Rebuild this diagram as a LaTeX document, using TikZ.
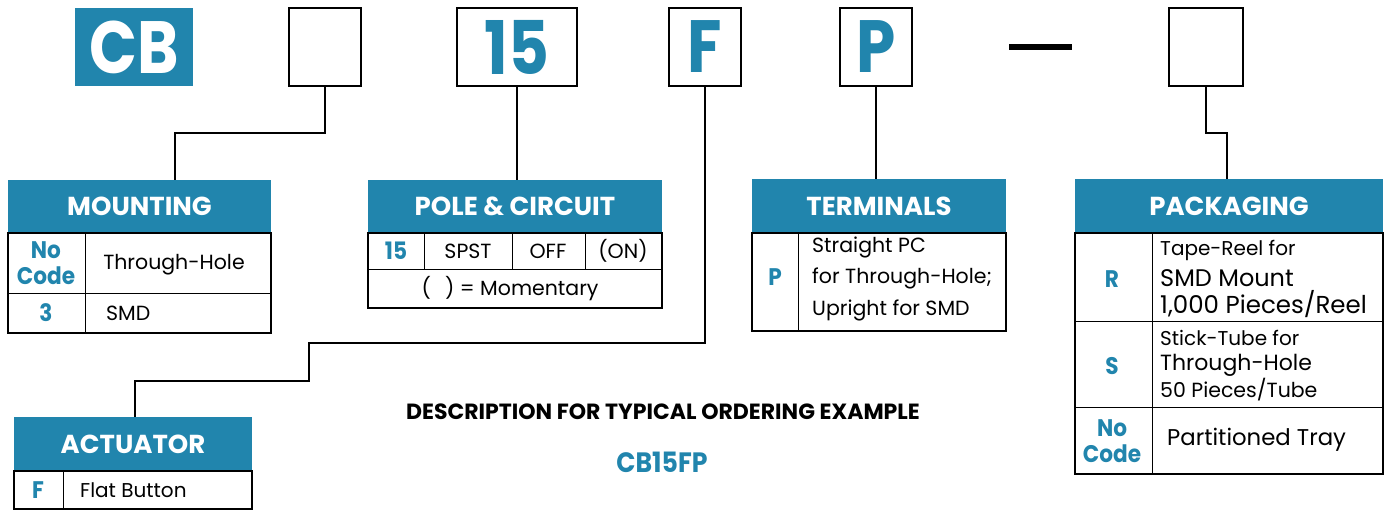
\documentclass[tikz,border=0pt]{standalone}
\usepackage{fontspec}
\setmainfont{Poppins}
\newfontfamily\headfont{Poppins}
\newfontfamily\codefont{Poppins}[FakeStretch=0.9]
\newfontfamily\bigfont{Poppins}[FakeStretch=0.85]
\definecolor{codeblue}{RGB}{33,133,173}

\tikzset{
  codebox/.style={draw, line width=2pt, minimum width=72pt, minimum height=78pt, inner sep=0pt,
    text=codeblue, font=\bigfont\bfseries\fontsize{74}{80}\selectfont},
  headbar/.style={fill=codeblue, inner sep=0pt, minimum height=53pt, text=white,
    font=\headfont\bfseries\fontsize{26}{30}\selectfont},
  frame/.style={line width=1.6pt},
  grid/.style={line width=0.9pt},
  code/.style={text=codeblue, inner sep=0pt, align=center,
    font=\codefont\bfseries\fontsize{24}{26}\selectfont},
  txt/.style={anchor=west, inner sep=0pt, font=\fontsize{20.5}{25}\selectfont},
  link/.style={line width=1.8pt}
}

\begin{document}
\begin{tikzpicture}[x=1pt,y=-1pt]
\useasboundingbox (0,0) rectangle (1385,510);

% part number boxes
\node [codebox, fill=codeblue, text=white, minimum width=118pt, draw=none] (cb) at (134,47) {CB};
\node [codebox] (mount) at (325,47) {};
\node [codebox, minimum width=120pt] (pole) at (517,47) {15};
\node [codebox] (act) at (705,47) {F};
\node [codebox] (term) at (876,47) {P};
\draw [line width=6pt] (1009,47) -- (1072,47);
\node [codebox, minimum width=74pt] (pack) at (1206,47) {};

% mounting
\node [headbar, minimum width=263pt] (mhead) at (139.5,206.5) {MOUNTING};
\draw [frame] (8,233) rectangle (271,333);
\draw [grid] (85,233) -- (85,333) (8,293) -- (271,293);
\node [code] (mnocode) at (46,263) {No\\Code};
\node [txt, anchor=center] (mhole) at (174,265) {Through-Hole};
\node [code] (mthree) at (46,313) {3};
\node [txt] (msmd) at (106,313) {SMD};

% pole & circuit
\node [headbar, minimum width=294pt] (phead) at (515,206.5) {POLE \& CIRCUIT};
\draw [frame] (368,233) rectangle (662,308);
\draw [grid] (368,269) -- (662,269) (424,233) -- (424,269) (512,233) -- (512,269) (585,233) -- (585,269);
\node [code] (pfifteen) at (396,251) {15};
\node [txt, anchor=center] (pspst) at (468,251) {SPST};
\node [txt, anchor=center] (poff) at (548,251) {OFF};
\node [txt, anchor=center] (pon) at (623,251) {(ON)};
\node [txt, anchor=center] (pmom) at (510,289) {(\hspace{0.7em}) = Momentary};

% terminals
\node [headbar, minimum width=254pt] (thead) at (879,206) {TERMINALS};
\draw [frame] (752,233) rectangle (1006,331);
\draw [grid] (798,233) -- (798,331);
\node [code] (tp) at (775,277) {P};
\node [txt] (tline1) at (812,247) {Straight PC};
\node [txt] (tline2) at (812,278) {for Through-Hole;};
\node [txt] (tline3) at (812,310) {Upright for SMD};

% packaging
\node [headbar, minimum width=308pt] (khead) at (1229,206) {PACKAGING};
\draw [frame] (1075,233) rectangle (1383,474);
\draw [grid] (1152,233) -- (1152,474) (1075,321) -- (1383,321) (1075,407) -- (1383,407);
\node [code] (kr) at (1112,279) {R};
\node [txt, font=\fontsize{20}{24}\selectfont] (kr1) at (1160,250) {Tape-Reel for};
\node [txt, font=\fontsize{24}{28}\selectfont] (kr2) at (1160,278) {SMD Mount};
\node [txt, font=\fontsize{24.5}{28}\selectfont] (kr3) at (1160,304) {1,000 Pieces/Reel};
\node [code] (ks) at (1112,366) {S};
\node [txt, font=\fontsize{20}{24}\selectfont] (ks1) at (1160,338) {Stick-Tube for};
\node [txt, font=\fontsize{22}{26}\selectfont] (ks2) at (1160,365) {Through-Hole};
\node [txt, font=\fontsize{20.5}{24}\selectfont] (ks3) at (1160,390) {50 Pieces/Tube};
\node [code] (knocode) at (1112,441) {No\\Code};
\node [txt, font=\fontsize{22.8}{28}\selectfont] (ktray) at (1167,440) {Partitioned Tray};

% actuator
\node [headbar, minimum width=238pt, minimum height=54pt] (ahead) at (133,444) {ACTUATOR};
\draw [frame] (14,471) rectangle (252,509);
\draw [grid] (63,471) -- (63,509);
\node [code] (af) at (38,490) {F};
\node [txt, font=\fontsize{20}{24}\selectfont] (aflat) at (80,490) {Flat Button};

% example
\node [font=\headfont\bfseries\fontsize{22}{25}\selectfont] (desc) at (663,412) {DESCRIPTION FOR TYPICAL ORDERING EXAMPLE};
\node [code, font=\codefont\bfseries\fontsize{28}{30}\selectfont] (example) at (662,462) {CB15FP};

% connectors
\draw [link] (mount.south) |- (175,133) -- (175,0 |- mhead.north);
\draw [link] (pole.south) -- (pole.south |- phead.north);
\draw [link] (act.south) |- (309,343) |- (135,381) -- (135,0 |- ahead.north);
\draw [link] (term.south) -- (term.south |- thead.north);
\draw [link] (pack.south) |- (1227,133) -- (1227,0 |- khead.north);
\end{tikzpicture}
\end{document}
